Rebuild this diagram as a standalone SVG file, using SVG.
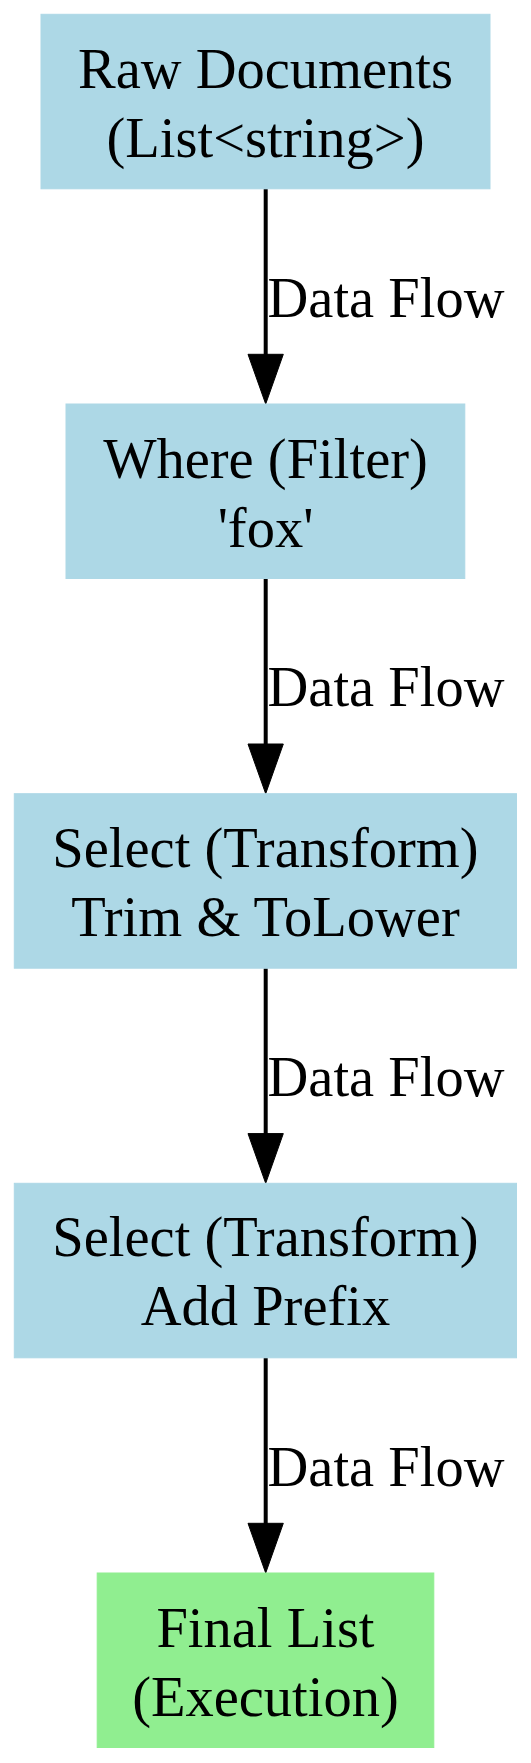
<svg xmlns="http://www.w3.org/2000/svg" width="531" height="1763" viewBox="0 0 531 1763">
<style>
.blue{fill:#add8e6;stroke:#add8e6;stroke-width:1}
.green{fill:#90ee90;stroke:#90ee90;stroke-width:1}
.t{font-family:"Liberation Serif","Times New Roman",serif;font-size:56.5px;fill:#000;text-anchor:middle}
.l{font-family:"Liberation Serif","Times New Roman",serif;font-size:56.5px;fill:#000;text-anchor:start}
.e{stroke:#000;stroke-width:4;fill:none}
.h{fill:#000;stroke:#000;stroke-width:1}
</style>
<rect width="531" height="1763" fill="#fff"/>
<g id="edges">
<g id="e1"><line class="e" x1="265.7" y1="188.8" x2="265.7" y2="356"/><polygon class="h" points="248,354.3 283.3,354.3 265.7,404"/><text class="l" x="267.5" y="316.5">Data Flow</text></g>
<g id="e2"><line class="e" x1="265.7" y1="578.5" x2="265.7" y2="746"/><polygon class="h" points="248,744 283.3,744 265.7,793.7"/><text class="l" x="267.5" y="706.2">Data Flow</text></g>
<g id="e3"><line class="e" x1="265.7" y1="968.2" x2="265.7" y2="1136"/><polygon class="h" points="248,1133.6 283.3,1133.6 265.7,1183.3"/><text class="l" x="267.5" y="1095.9">Data Flow</text></g>
<g id="e4"><line class="e" x1="265.7" y1="1357.8" x2="265.7" y2="1525"/><polygon class="h" points="248,1523.3 283.3,1523.3 265.7,1573"/><text class="l" x="267.5" y="1485.5">Data Flow</text></g>
</g>
<g id="raw"><rect class="blue" x="41" y="14.3" width="449" height="174.5"/><text class="t" x="265.5" y="88">Raw Documents</text><text class="t" x="265.5" y="157">(List&lt;string&gt;)</text></g>
<g id="where"><rect class="blue" x="66" y="404" width="398.8" height="174.5"/><text class="t" x="265.5" y="477.5">Where (Filter)</text><text class="t" x="265.5" y="546.5">'fox'</text></g>
<g id="select1"><rect class="blue" x="14.3" y="793.7" width="502.2" height="174.5"/><text class="t" x="265.5" y="867.2">Select (Transform)</text><text class="t" x="265.5" y="936.2">Trim &amp; ToLower</text></g>
<g id="select2"><rect class="blue" x="14.3" y="1183.3" width="502.2" height="174.5"/><text class="t" x="265.5" y="1256.3">Select (Transform)</text><text class="t" x="265.5" y="1325.3">Add Prefix</text></g>
<g id="final"><rect class="green" x="97.2" y="1573" width="336.6" height="174.5"/><text class="t" x="265.5" y="1646.5">Final List</text><text class="t" x="265.5" y="1715.5">(Execution)</text></g>
</svg>
